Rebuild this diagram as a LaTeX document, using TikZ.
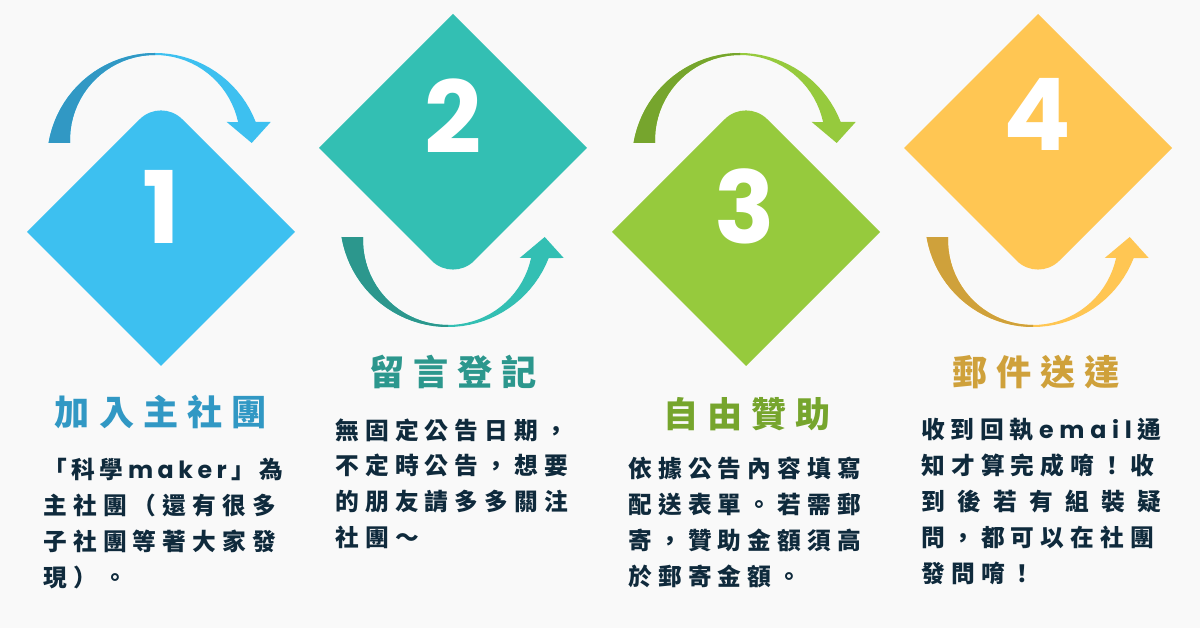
\documentclass[tikz,border=0pt]{standalone}
\usepackage{fontspec}
\newfontfamily\cjkfont[LetterSpace=26]{Noto Sans CJK TC}
\newfontfamily\headfont[LetterSpace=26]{Noto Sans CJK TC}
\newfontfamily\numfont{Poppins}
\usetikzlibrary{positioning, calc}

\definecolor{bgcol}{HTML}{F9F9F9}
\definecolor{inkcol}{HTML}{0F2A3C}
\definecolor{blueA}{HTML}{3DC0F0}
\definecolor{blueB}{HTML}{3198C4}
\definecolor{tealA}{HTML}{33BFB3}
\definecolor{tealB}{HTML}{2C978D}
\definecolor{greenA}{HTML}{96CA3D}
\definecolor{greenB}{HTML}{76A52D}
\definecolor{goldA}{HTML}{FFC653}
\definecolor{goldB}{HTML}{CFA13B}

% diamond with one rounded tip: centre, flip (1 = tip up, -1 = tip down), colour
\newcommand{\stepdiamond}[3]{%
  \fill[#3, shift={#1}, yscale=#2] (-67,67) [rounded corners=0.6cm] -- (0,134) -- (67,67)
    [sharp corners] -- (134,0) -- (0,-134) -- (-134,0) -- cycle;}

% bent arrow round a diamond tip
\newcommand{\turnpath}{%
  plot[domain=170.4:21.2, samples=40] ({108*cos(\x)}, {108*sin(\x)})
  -- (115.7,39) -- (96.7,18) -- (71.7,39)
  -- plot[domain=12.2:182, samples=40] ({85*cos(\x)}, {21+85*sin(\x)}) -- cycle}

\newcommand{\turnarrow}[4]{% centre, flip, dark, light
  \begin{scope}[shift={#1}, yscale=#2]
    \fill[#4] \turnpath;
    \begin{scope}
      \clip (-120,-40) rectangle (0,120);
      \fill[#3] \turnpath;
    \end{scope}
  \end{scope}}

\begin{document}
\begin{tikzpicture}
    [x=0.02cm, y=0.02cm,
    numnode/.style={text=white, inner sep=0pt, font=\numfont\bfseries\fontsize{57}{57}\selectfont},
    headnode/.style={inner sep=0pt, anchor=base, font=\headfont\bfseries\fontsize{20}{24}\selectfont},
    bodynode/.style={text=inkcol, inner sep=0pt, anchor=north west, align=left, text width=4.8cm,
      font=\cjkfont\bfseries\fontsize{13.5}{20.4}\selectfont},]

    \useasboundingbox (0,0) rectangle (1200,628);
    \fill[bgcol] (0,0) rectangle (1200,628);

    %Shapes
    \turnarrow{(155,467)}{1}{blueB}{blueA}
    \turnarrow{(448,409)}{-1}{tealB}{tealA}
    \turnarrow{(740,467)}{1}{greenB}{greenA}
    \turnarrow{(1033,409)}{-1}{goldB}{goldA}
    \stepdiamond{(161,396)}{1}{blueA}
    \stepdiamond{(453,480)}{-1}{tealA}
    \stepdiamond{(746,396)}{1}{greenA}
    \stepdiamond{(1038,480)}{-1}{goldA}

    %Nodes
    \node[numnode] (n1) at (161,421) {1};
    \node[numnode] (n2) at (453,512) {2};
    \node[numnode] (n3) at (745,422) {3};
    \node[numnode] (n4) at (1037,514) {4};

    \node[headnode, text=blueB] (t1) at (161,202) {加入主社團};
    \node[headnode, text=tealB] (t2) at (453,242) {留言登記};
    \node[headnode, text=greenB] (t3) at (747,200) {自由贊助};
    \node[headnode, text=goldB] (t4) at (1036,242) {郵件送達};

    \node[bodynode] (b1) at (43,170)
      {\makebox[4.8cm][s]{「\hfill 科\hfill 學\hfill {\numfont m\hfill a\hfill k\hfill e\hfill r}\hfill 」\hfill 為}\\
       主社團（還有很多\\子社團等著大家發\\現）。};
    \node[bodynode] (b2) at (335,210)
      {無固定公告日期，\\不定時公告，想要\\的朋友請多多關注\\社團～};
    \node[bodynode] (b3) at (628,171)
      {依據公告內容填寫\\配送表單。若需郵\\寄，贊助金額須高\\於郵寄金額。};
    \node[bodynode] (b4) at (921,210)
      {\makebox[4.8cm][s]{收\hfill 到\hfill 回\hfill 執\hfill {\numfont e\hfill m\hfill a\hfill i\hfill l}\hfill 通}\\
       知才算完成唷！收\\
       \makebox[4.8cm][s]{到\hfill 後\hfill 若\hfill 有\hfill 組\hfill 裝\hfill 疑}\\
       問，都可以在社團\\發問唷！};
\end{tikzpicture}
\end{document}
